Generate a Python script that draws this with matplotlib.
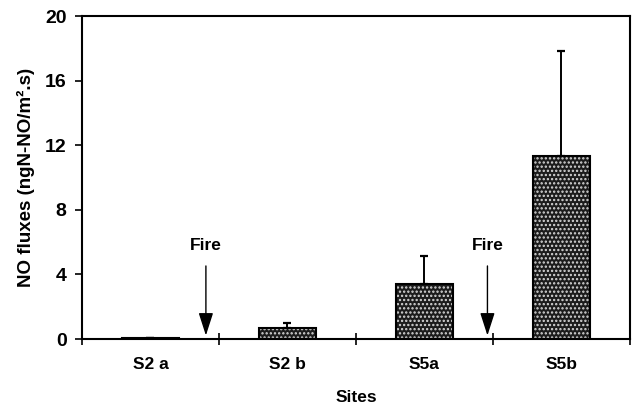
import matplotlib
matplotlib.use("Agg")
import matplotlib.pyplot as plt
import numpy as np

# Datos
sitios = ["S2 a", "S2 b", "S5a", "S5b"]
flujos = [0.05, 0.68, 3.4, 11.35]
error_sup = [0.0, 0.32, 1.75, 6.5]
fuego_x = [0.905, 2.96]   # posicion de las flechas "Fire" (en unidades de categoria)
fuego_y = 4.7

plt.rcParams["font.family"] = ["Liberation Sans", "DejaVu Sans"]
plt.rcParams["font.weight"] = "bold"
plt.rcParams["hatch.linewidth"] = 1.1

fig, ax = plt.subplots(figsize=(6.35, 4.13), dpi=100)
fig.subplots_adjust(left=0.129, right=0.992, top=0.961, bottom=0.179)

x = np.arange(len(sitios)) + 0.5
ancho = 0.41

# relleno punteado (gris oscuro con puntos blancos)
ax.bar(x, flujos, width=ancho, color="#1c1c1c", edgecolor="#d8d8d8",
       hatch="....", linewidth=0, zorder=2)
# contorno + barras de error
ax.bar(x, flujos, width=ancho, color="none", edgecolor="black",
       linewidth=1.5, zorder=3)
ax.errorbar(x, flujos, yerr=[np.zeros(len(error_sup)), error_sup], fmt="none",
            ecolor="black", elinewidth=1.4, capsize=3, capthick=1.6, zorder=4)

for fx in fuego_x:
    ax.annotate("", xy=(fx, 0.05), xytext=(fx, fuego_y),
                arrowprops=dict(arrowstyle="-|>,head_width=0.45,head_length=1.4",
                                color="black", lw=1.0), zorder=5)
    ax.text(fx, fuego_y + 0.6, "Fire", ha="center", va="bottom",
            fontsize=12.5, fontweight="bold")

ax.set_xlim(0, 4)
ax.set_ylim(0, 20)
ax.set_yticks([0, 4, 8, 12, 16, 20])
ax.set_xticks(x)
ax.set_xticklabels(sitios)
ax.set_xticks([0, 1, 2, 3, 4], minor=True)
ax.tick_params(axis="x", which="major", length=0, pad=13, labelsize=12.5)
ax.tick_params(axis="x", which="minor", direction="inout", length=8, width=1.2)
ax.tick_params(axis="y", direction="out", length=5, width=1.2, labelsize=14, pad=6)

for s in ax.spines.values():
    s.set_linewidth(1.5)

ax.set_ylabel("NO fluxes (ngN-NO/m².s)", fontsize=13.5, fontweight="bold", labelpad=7)
ax.set_xlabel("Sites", fontsize=12.5, fontweight="bold", labelpad=13)

fig.savefig("out.png", dpi=100)
